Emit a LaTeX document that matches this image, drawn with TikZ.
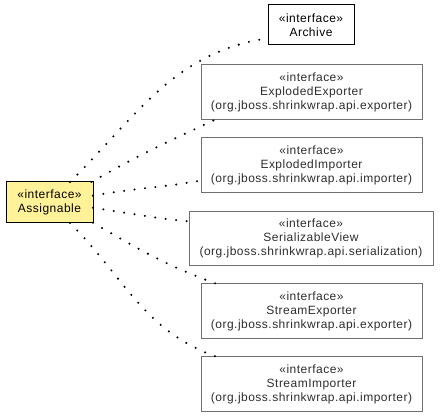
\documentclass[tikz,border=0pt]{standalone}
\usepackage{fontspec}
\setmainfont{Liberation Sans}[LetterSpace=4.0]
\definecolor{ifacefill}{RGB}{255,242,153}
\definecolor{ifaceline}{RGB}{112,112,112}
\definecolor{ifacetext}{RGB}{45,45,45}
\begin{document}
\begin{tikzpicture}[x=1pt, y=1pt,
    box/.style={draw, align=center, inner sep=0pt, outer sep=0pt, line width=1pt,
        font=\fontsize{12}{14}\selectfont},
    pkgbox/.style={box, draw=ifaceline, text=ifacetext, minimum width=221pt, minimum height=55pt},
    realize/.style={line width=2.3pt, line cap=round, dash pattern=on 0pt off 10.5pt}]
    \useasboundingbox (0,0) rectangle (440,-417);
    \node[box, fill=ifacefill, minimum width=87pt, minimum height=41pt] (assignable) at (49.5,-202.5)
        {«interface»\\Assignable};
    \node[box, minimum width=86pt, minimum height=40pt] (archive) at (311,-25)
        {«interface»\\Archive};
    \node[pkgbox] (explodedExporter) at (311.5,-92)
        {«interface»\\ExplodedExporter\\(org.jboss.shrinkwrap.api.exporter)};
    \node[pkgbox] (explodedImporter) at (311.5,-165)
        {«interface»\\ExplodedImporter\\(org.jboss.shrinkwrap.api.importer)};
    \node[pkgbox, minimum width=244pt, minimum height=54pt] (serializableView) at (311,-238.5)
        {«interface»\\SerializableView\\(org.jboss.shrinkwrap.api.serialization)};
    \node[pkgbox] (streamExporter) at (311.5,-311)
        {«interface»\\StreamExporter\\(org.jboss.shrinkwrap.api.exporter)};
    \node[pkgbox] (streamImporter) at (311.5,-384)
        {«interface»\\StreamImporter\\(org.jboss.shrinkwrap.api.importer)};
    \draw[realize, shorten >=6pt] (assignable.45) to[out=45, in=190] (archive.197);
    \draw[realize] (assignable.26) to[out=30, in=205] (explodedExporter.196);
    \draw[realize] (assignable.9) to[out=10, in=190] (explodedImporter.188);
    \draw[realize] (assignable.353) to[out=-8, in=175] (serializableView.172);
    \draw[realize] (assignable.335) to[out=-30, in=160] (streamExporter.164);
    \draw[realize] (assignable.315) to[out=-45, in=160] (streamImporter.164);
\end{tikzpicture}
\end{document}
